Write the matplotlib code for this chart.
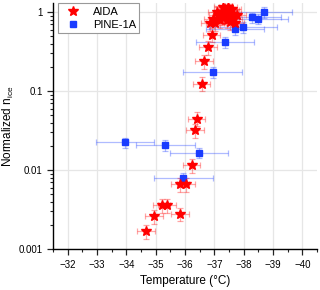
import matplotlib
matplotlib.use('Agg')
import matplotlib.pyplot as plt
import numpy as np
from matplotlib.ticker import LogLocator, MultipleLocator, NullFormatter, FixedLocator, FixedFormatter

plt.rcParams['font.family'] = ['Liberation Sans', 'DejaVu Sans']

# AIDA (red stars)
aida_T = [-34.66, -34.94, -35.20, -35.39, -35.82, -35.82, -36.03, -36.22,
          -36.33, -36.39, -36.56, -36.65, -36.78, -36.90,
          -36.85, -36.96, -37.02, -37.08, -37.13, -37.19, -37.25, -37.30,
          -37.30, -37.36, -37.42, -37.42, -37.47, -37.47, -37.53, -37.53,
          -37.59, -37.59, -37.64, -37.70, -37.76]
aida_n = [0.0017, 0.0026, 0.0036, 0.0036, 0.0028, 0.0066, 0.0066, 0.0116,
          0.032, 0.045, 0.125, 0.24, 0.36, 0.52,
          0.72, 0.83, 0.72, 1.01, 0.92, 0.79, 0.87, 0.96,
          1.17, 1.11, 1.01, 0.79, 0.92, 1.17, 1.06, 0.75,
          0.96, 1.11, 0.83, 0.72, 0.92]
aida_Terr = 0.3
aida_rel = 0.2

# PINE-1A (blue squares)
pine_T = [-33.95, -35.33, -35.94, -36.47, -36.94, -37.36, -37.70,
          -37.98, -38.27, -38.50, -38.70]
pine_n = [0.0224, 0.0208, 0.0080, 0.0167, 0.174, 0.42, 0.61,
          0.65, 0.86, 0.83, 1.0]
pine_Terr = [1.0, 1.0, 1.0, 1.0, 1.0, 1.0, 1.0, 1.15, 1.0, 1.0, 0.95]
pine_rel = 0.15

fig = plt.figure(figsize=(3.2, 2.9), dpi=100)
ax = fig.add_axes([0.166, 0.141, 0.825, 0.848])

ax.grid(True, which='major', color='#e6e6e6', lw=0.9, zorder=0)
ax.set_axisbelow(True)

pn = np.array(pine_n)
ax.errorbar(pine_T, pine_n, xerr=pine_Terr, yerr=pn * pine_rel, fmt='none',
            ecolor='#1a3cff', alpha=0.35, elinewidth=0.9, capsize=2, capthick=0.9, zorder=2)
an = np.array(aida_n)
ax.errorbar(aida_T, aida_n, xerr=aida_Terr, yerr=an * aida_rel, fmt='none',
            ecolor='#ff0000', alpha=0.35, elinewidth=0.9, capsize=2, capthick=0.9, zorder=3)
ax.plot(pine_T, pine_n, 's', color='#1a3cff', ms=4.5, mec='#1a3cff', ls='none',
        label='PINE-1A', zorder=4)
ax.plot(aida_T, aida_n, '*', color='#ff0000', ms=7.5, mec='#ff0000', ls='none',
        label='AIDA', zorder=5)

ax.set_yscale('log')
ax.set_ylim(0.001, 1.3)
ax.set_xlim(-31.5, -40.5)

ax.xaxis.set_major_locator(MultipleLocator(1))
ax.xaxis.set_minor_locator(MultipleLocator(0.5))
ax.yaxis.set_major_locator(FixedLocator([0.001, 0.01, 0.1, 1]))
ax.yaxis.set_major_formatter(FixedFormatter(['0.001', '0.01', '0.1', '1']))
ax.yaxis.set_minor_locator(LogLocator(base=10, subs=np.arange(2, 10)))
ax.yaxis.set_minor_formatter(NullFormatter())

ax.tick_params(which='major', direction='out', length=4, width=0.9, labelsize=7, color='#222222')
ax.tick_params(which='minor', direction='out', length=2.2, width=0.8, color='#222222')

for s in ['top', 'right']:
    ax.spines[s].set_visible(False)
for s in ['left', 'bottom']:
    ax.spines[s].set_linewidth(1.0)

ax.set_xlabel('Temperature (°C)', fontsize=8.5, labelpad=4)
ax.set_ylabel('Normalized n$_\\mathregular{ice}$', fontsize=8.5, labelpad=2)

h, l = ax.get_legend_handles_labels()
leg = ax.legend(h[::-1], l[::-1], loc='upper left', bbox_to_anchor=(0.02, 1.0),
                borderaxespad=0, fontsize=8, fancybox=False, edgecolor='#999999',
                framealpha=1, handletextpad=0.8, borderpad=0.3, labelspacing=0.3)
leg.get_frame().set_linewidth(0.8)

fig.savefig('out.png', dpi=100)
